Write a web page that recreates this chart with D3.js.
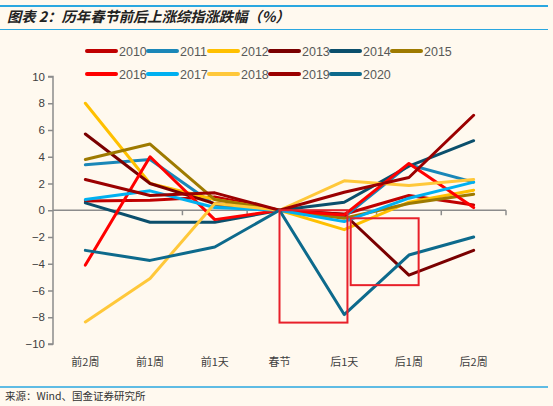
<!DOCTYPE html>
<html><head><meta charset="utf-8">
<script src="https://cdn.jsdelivr.net/npm/d3@7"></script>
<style>
html,body{margin:0;padding:0;background:#FFF9EF;}
svg{display:block;}
</style></head>
<body>
<svg id="c" width="553" height="406"></svg>
<script>
const categories = ["前2周","前1周","前1天","春节","后1天","后1周","后2周"];
const seriesNames = ["2010","2011","2012","2013","2014","2015","2016","2017","2018","2019","2020"];
const v2010 = [0.7, 0.75, 1.0, 0, -0.3, 1.1, 0.4];
const v2011 = [3.4, 3.8, 0.4, 0, -0.5, 3.4, 2.1];
const v2012 = [8.0, 2.0, 0.8, 0, -1.45, 0.6, 1.5];
const v2013 = [5.7, 2.0, 0.5, 0, -0.3, -4.85, -3.0];
const v2014 = [0.55, -0.9, -0.9, 0, 0.6, 3.3, 5.2];
const v2015 = [3.8, 4.95, 0.8, 0, -0.6, 0.5, 1.2];
const v2016 = [-4.1, 4.0, -0.7, 0, -0.35, 3.5, 0.2];
const v2017 = [0.8, 1.45, 0.2, 0, -0.85, 0.9, 2.1];
const v2018 = [-8.35, -5.1, 0.5, 0, 2.2, 1.85, 2.3];
const v2019 = [2.3, 1.1, 1.3, 0, 1.35, 2.45, 7.1];
const v2020 = [-3.0, -3.75, -2.75, 0, -7.8, -3.35, -2.0];
const seriesValues = [v2010,v2011,v2012,v2013,v2014,v2015,v2016,v2017,v2018,v2019,v2020];
const colors = ["#C00000","#1A87B8","#FFC000","#7A0000","#0B4F6C","#9E7A00","#FF0000","#00B0F0","#FFC83A","#9B0000","#0D6A8C"];
const yTicks = [-10,-8,-6,-4,-2,0,2,4,6,8,10];
const title = "图表 2：历年春节前后上涨综指涨跌幅（%）";
const source = "来源：Wind、国金证券研究所";
// annotation boxes in data terms: [category index from, to, value top, bottom]
const boxes = [[3, 4.05, 0, -8.4],[4.1, 5.15, -0.6, -5.6]];

const svg = d3.select("#c");
svg.append("rect").attr("width",553).attr("height",406).attr("fill","#FFF9EF");

// header
svg.append("line").attr("x1",0).attr("x2",548).attr("y1",6).attr("y2",6).attr("stroke","#2AA7E0").attr("stroke-width",2);
svg.append("line").attr("x1",0).attr("x2",548).attr("y1",29.5).attr("y2",29.5).attr("stroke","#2AA7E0").attr("stroke-width",1);
svg.append("text").attr("x",7).attr("y",21.5).text(title)
  .attr("font-family","'Noto Sans CJK SC', sans-serif").attr("font-size",14.3).attr("font-weight","bold")
  .attr("font-style","italic").attr("fill","#222");

const x = d3.scaleBand().domain(categories).range([53,506]);
const xi = d3.scaleLinear().domain([0,6]).range([x(categories[0])+x.bandwidth()/2, x(categories[6])+x.bandwidth()/2]);
const y = d3.scaleLinear().domain([-10,10]).range([344,76.5]);

// y axis
const yAxis = d3.axisLeft(y).tickValues(yTicks).tickSize(5).tickFormat(d3.format("d"));
const ga = svg.append("g").attr("transform","translate(53,0)").call(yAxis);
ga.select(".domain").attr("stroke","#8C8C8C").attr("stroke-width",1.5).attr("d","M-5,76.5H0V344H-5");
ga.selectAll(".tick line").attr("stroke","#8C8C8C").attr("stroke-width",1.5);
ga.selectAll(".tick text").attr("font-family","'Liberation Sans', sans-serif").attr("font-size",11.5).attr("fill","#404040").attr("x",-8);

// x axis at zero
const xAxis = d3.axisBottom(x).tickSize(0).tickFormat("");
const gx = svg.append("g").attr("transform",`translate(0,${y(0)})`).call(xAxis);
gx.select(".domain").attr("stroke","#8C8C8C").attr("stroke-width",1.5).attr("d",`M53,0H506`);
gx.selectAll(".tick").remove();
const bounds = d3.range(1,8).map(i=>53 + i*x.step());
gx.selectAll(".bt").data(bounds).enter().append("line")
  .attr("x1",d=>d).attr("x2",d=>d).attr("y1",0).attr("y2",5).attr("stroke","#8C8C8C").attr("stroke-width",1.5);

// category labels at bottom
svg.selectAll(".cl").data(categories).enter().append("text")
  .attr("x",d=>x(d)+x.bandwidth()/2).attr("y",366).attr("text-anchor","middle")
  .attr("font-family","'Noto Sans CJK SC', sans-serif").attr("font-size",11).attr("fill","#404040").text(d=>d);

// lines
const line = d3.line().x((d,i)=>x(categories[i])+x.bandwidth()/2).y(d=>y(d));
seriesValues.forEach((vals,k)=>{
  svg.append("path").attr("d",line(vals)).attr("fill","none").attr("stroke",colors[k])
    .attr("stroke-width",3).attr("stroke-linejoin","round").attr("stroke-linecap","round");
});

// annotation boxes
boxes.forEach(b=>{
  svg.append("rect").attr("x",xi(b[0])).attr("y",y(b[2])).attr("width",xi(b[1])-xi(b[0]))
    .attr("height",y(b[3])-y(b[2])).attr("fill","none").attr("stroke","#E8202A").attr("stroke-width",2);
});

// legend
const legX = [87,148,209,270,331,392];
seriesNames.forEach((n,k)=>{
  const col = k%6, row = Math.floor(k/6);
  const lx = legX[col], ly = 51 + row*23;
  svg.append("line").attr("x1",lx).attr("x2",lx+29).attr("y1",ly).attr("y2",ly)
    .attr("stroke",colors[k]).attr("stroke-width",4).attr("stroke-linecap","round");
  svg.append("text").attr("x",lx+32).attr("y",ly+4.5).text(n)
    .attr("font-family","'Liberation Sans', sans-serif").attr("font-size",12.5).attr("fill","#595959");
});

// source
svg.append("line").attr("x1",0).attr("x2",548).attr("y1",387).attr("y2",387).attr("stroke","#2AA7E0").attr("stroke-width",1.5);
svg.append("text").attr("x",5).attr("y",400).text(source)
  .attr("font-family","'Noto Sans CJK SC', sans-serif").attr("font-size",10.5).attr("fill","#333");
</script>
</body></html>
